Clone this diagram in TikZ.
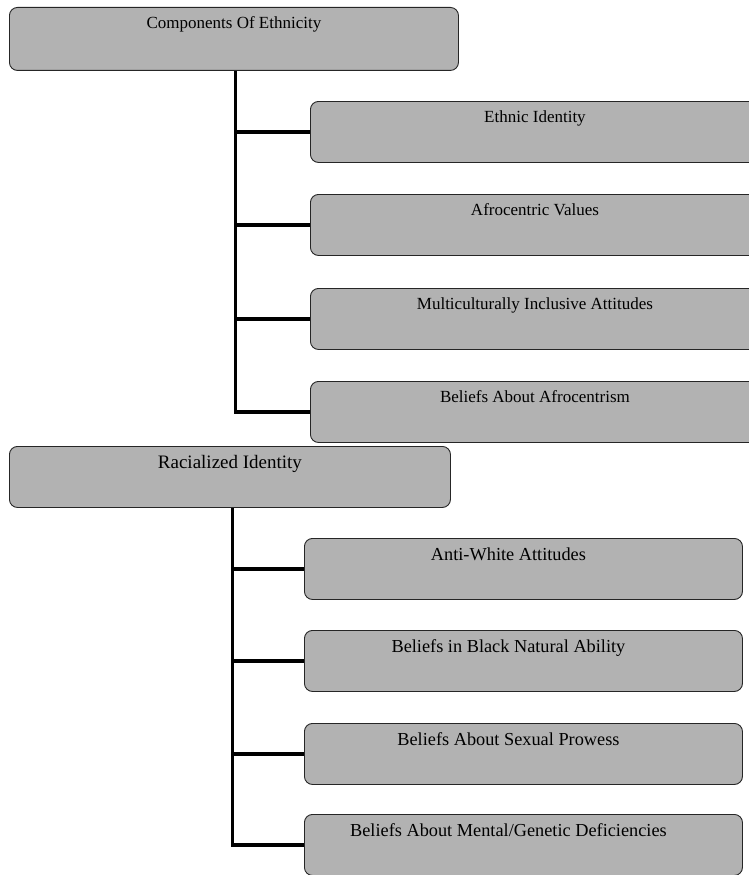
\documentclass[tikz,border=0pt]{standalone}
\usepackage{fontspec}
\setmainfont{Liberation Serif}
\definecolor{boxgray}{gray}{0.70}
\begin{document}
\begin{tikzpicture}[x=1pt, y=-1pt,
    box/.style={draw=black!85, fill=boxgray, line width=0.9pt, rounded corners=8pt,
        anchor=north west, inner xsep=0pt, inner ysep=0pt,
        minimum width=449pt, text height=21pt, text depth=40pt,
        font=\fontsize{17}{20}\selectfont},
    lowbox/.style={box, minimum width=438pt, text height=22.5pt, text depth=38.5pt,
        font=\fontsize{18.3}{21}\selectfont},
    link/.style={line width=3.6pt}]
    \useasboundingbox (0,0) rectangle (749,875);

    % Komponenty etniczności
    \node[box, text height=21pt, text depth=42pt] (comp) at (9,7) {Components Of Ethnicity};
    \node[box] (eth) at (310,101) {Ethnic Identity};
    \node[box] (afro) at (310,194) {Afrocentric Values};
    \node[box] (multi) at (310,288) {Multiculturally Inclusive Attitudes};
    \node[box] (bel) at (310,381) {Beliefs About Afrocentrism};

    \coordinate (t1) at ([xshift=1.5pt]comp.south);
    \draw[link] (t1) |- (bel.west);
    \foreach \n in {eth,afro,multi}
        \draw[link] (t1 |- \n.west) -- (\n.west);

    % Tożsamość rasowa
    \node[box, minimum width=441pt, text height=22pt, text depth=39pt,
        font=\fontsize{19}{22}\selectfont] (race) at (9,446) {Racialized Identity};
    \node[lowbox] (anti) at (304,538) {Anti-White Attitudes\hspace*{30pt}};
    \node[lowbox] (nat) at (304,630) {Beliefs in Black Natural Ability\hspace*{30pt}};
    \node[lowbox] (sex) at (304,723) {Beliefs About Sexual Prowess\hspace*{30pt}};
    \node[lowbox] (gen) at (304,814) {Beliefs About Mental/Genetic Deficiencies\hspace*{30pt}};

    \coordinate (t2) at ([xshift=2.5pt]race.south);
    \draw[link] (t2) |- (gen.west);
    \foreach \n in {anti,nat,sex}
        \draw[link] (t2 |- \n.west) -- (\n.west);
\end{tikzpicture}
\end{document}
